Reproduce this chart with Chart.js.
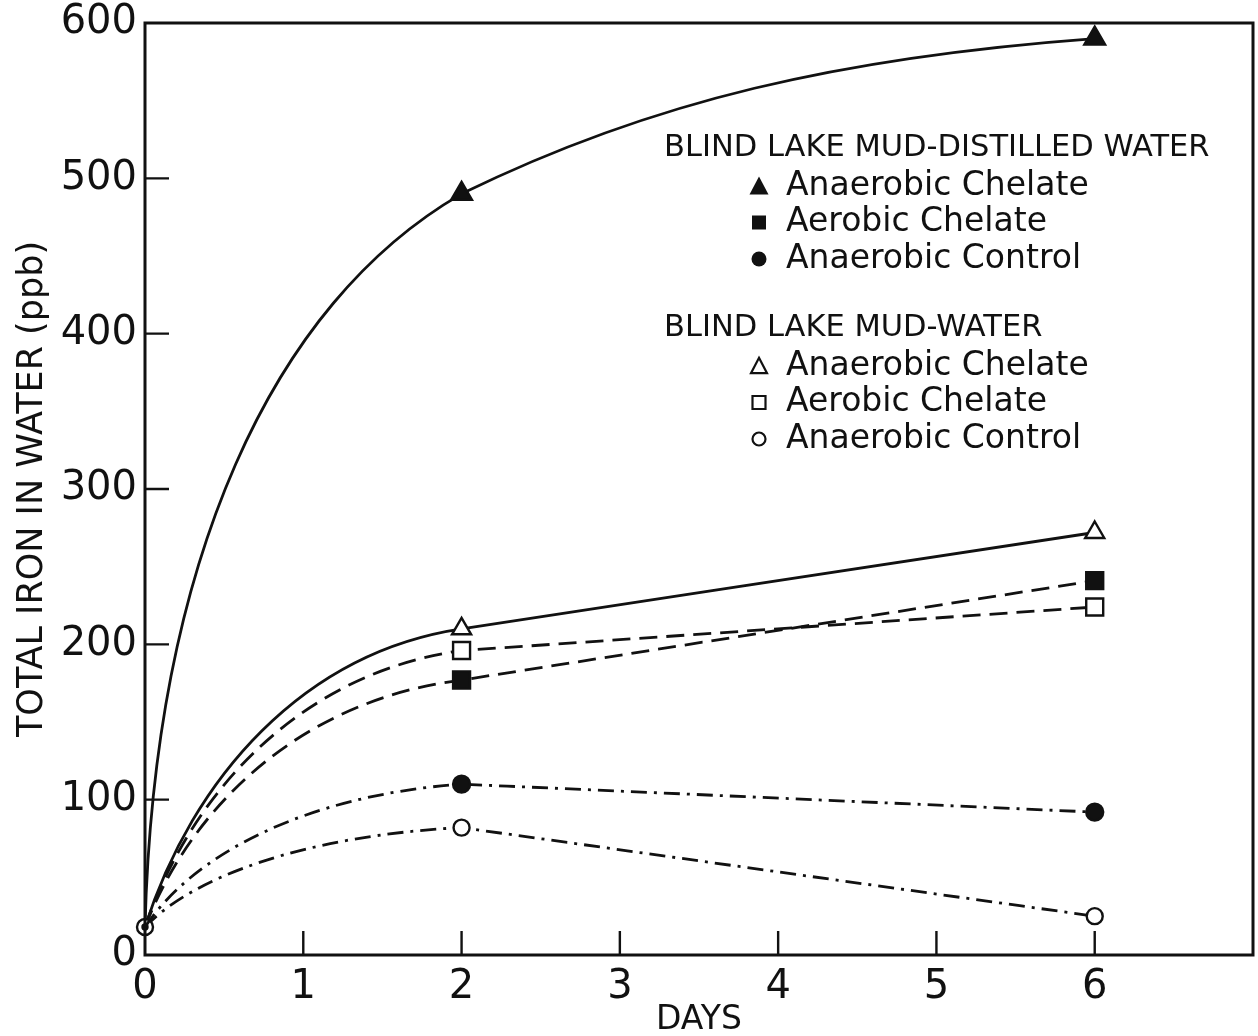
<!DOCTYPE html>
<html>
<head>
<meta charset="utf-8">
<script src="https://cdn.jsdelivr.net/npm/chart.js@4"></script>
<style>
html, body { margin: 0; padding: 0; background: #fff; }
</style>
</head>
<body>
<canvas id="ironChart" width="1258" height="1036"></canvas>
<script>
// days sampled and measured total iron (ppb)
const days = [0, 2, 6];
const distAnaerobicChelate = [18, 490, 590];
const distAerobicChelate = [18, 177, 241];
const distAnaerobicControl = [18, 110, 92];
const mudAnaerobicChelate = [18, 210, 272];
const mudAerobicChelate = [18, 196, 224];
const mudAnaerobicControl = [18, 82, 25];

const xTickValues = [0, 1, 2, 3, 4, 5, 6];
const yTickValues = [0, 100, 200, 300, 400, 500, 600];

const legendGroups = [
    { title: 'BLIND LAKE MUD-DISTILLED WATER', items: ['Anaerobic Chelate', 'Aerobic Chelate', 'Anaerobic Control'] },
    { title: 'BLIND LAKE MUD-WATER', items: ['Anaerobic Chelate', 'Aerobic Chelate', 'Anaerobic Control'] }
];

const INK = '#111';
const FONT = '"DejaVu Sans", "Liberation Sans", sans-serif';

function toPoints(values) {
    return values.map((v, i) => ({ x: days[i], y: v }));
}

// curve shape for each segment: start handle (ax, ay) and end handle (cx, cy), relative to the segment
const steepCurve = [[0.03, 0.5, 0.4, 0.85], [0.3, 0.6, 0.6, 0.88]];
const softCurve = [[0.15, 0.5, 0.5, 0.92], [1 / 3, 1 / 3, 2 / 3, 2 / 3]];

function series(label, values, style, filled, dash, curve, radius, firstRadius) {
    return {
        label: label,
        data: toPoints(values),
        borderColor: INK,
        borderWidth: 2.8,
        borderDash: dash,
        tension: 0.4,
        fill: false,
        clip: 12,
        pointStyle: style,
        pointRadius: [firstRadius, radius, radius],
        pointBackgroundColor: filled ? INK : '#fff',
        pointBorderColor: INK,
        pointBorderWidth: 2.4,
        curve: curve
    };
}

const dashed = [18, 9];
const dashDot = [16, 7, 3, 7];

const datasets = [
    series('Distilled - Anaerobic Chelate', distAnaerobicChelate, 'triangle', true, [], steepCurve, 12, 0),
    series('Distilled - Aerobic Chelate', distAerobicChelate, 'rect', true, dashed, softCurve, 12, 0),
    Object.assign(series('Distilled - Anaerobic Control', distAnaerobicControl, 'circle', true, dashDot, softCurve, 8.5, 2.5), { order: -2 }),
    series('Mud - Anaerobic Chelate', mudAnaerobicChelate, 'triangle', false, [], softCurve, 11, 0),
    series('Mud - Aerobic Chelate', mudAerobicChelate, 'rect', false, dashed, softCurve, 12, 0),
    Object.assign(series('Mud - Anaerobic Control', mudAnaerobicControl, 'circle', false, dashDot, softCurve, 8, 8), { order: -1 })
];

// bend the line segments to the hand drawn shape
const curvePlugin = {
    id: 'curveShape',
    beforeDatasetsDraw(chart) {
        chart.data.datasets.forEach((ds, i) => {
            const meta = chart.getDatasetMeta(i);
            if (!ds.curve || !meta.dataset) return;
            meta.dataset.updateControlPoints(chart.chartArea, 'x');
            const pts = meta.data;
            ds.curve.forEach((c, s) => {
                const p0 = pts[s], p1 = pts[s + 1];
                if (!p0 || !p1) return;
                const dx = p1.x - p0.x, dy = p1.y - p0.y;
                p0.cp2x = p0.x + c[0] * dx;
                p0.cp2y = p0.y + c[1] * dy;
                p1.cp1x = p0.x + c[2] * dx;
                p1.cp1y = p0.y + c[3] * dy;
            });
            meta.dataset._path = undefined;
        });
    }
};

// box round the plot and inward tick marks
const framePlugin = {
    id: 'frame',
    afterDatasetsDraw(chart) {
        const { ctx, chartArea: a, scales } = chart;
        ctx.save();
        ctx.strokeStyle = INK;
        ctx.lineWidth = 3;
        ctx.strokeRect(a.left, a.top, a.right - a.left, a.bottom - a.top);
        ctx.lineWidth = 2.4;
        ctx.beginPath();
        xTickValues.slice(1).forEach(v => {
            const x = scales.x.getPixelForValue(v);
            ctx.moveTo(x, a.bottom);
            ctx.lineTo(x, a.bottom - 24);
        });
        yTickValues.slice(1, -1).forEach(v => {
            const y = scales.y.getPixelForValue(v);
            ctx.moveTo(a.left, y);
            ctx.lineTo(a.left + 24, y);
        });
        ctx.stroke();
        ctx.restore();
    }
};

function drawMarker(ctx, style, filled, x, y, size) {
    ctx.beginPath();
    if (style === 'triangle') {
        const h = size * 0.9;
        ctx.moveTo(x, y - h / 2 - 1);
        ctx.lineTo(x + size / 2, y + h / 2);
        ctx.lineTo(x - size / 2, y + h / 2);
        ctx.closePath();
    } else if (style === 'rect') {
        ctx.rect(x - size / 2, y - size / 2, size, size);
    } else {
        ctx.arc(x, y, size / 2, 0, Math.PI * 2);
    }
    if (filled) {
        ctx.fillStyle = INK;
        ctx.fill();
    } else {
        ctx.fillStyle = '#fff';
        ctx.fill();
        ctx.lineWidth = 2.2;
        ctx.strokeStyle = INK;
        ctx.stroke();
    }
}

const legendPlugin = {
    id: 'figureLegend',
    afterDraw(chart) {
        const ctx = chart.ctx;
        const styles = ['triangle', 'rect', 'circle'];
        const sizes = [[19, 14, 15], [16, 13, 13]];
        const headerY = [148, 328];
        ctx.save();
        ctx.fillStyle = INK;
        ctx.textBaseline = 'middle';
        legendGroups.forEach((g, gi) => {
            ctx.font = '30.5px ' + FONT;
            ctx.fillStyle = INK;
            ctx.textAlign = 'left';
            ctx.fillText(g.title, 664, headerY[gi]);
            g.items.forEach((item, k) => {
                const y = headerY[gi] + 38 + k * 36.5;
                drawMarker(ctx, styles[k], gi === 0, 759, y, sizes[gi][k]);
                ctx.font = '33px ' + FONT;
                ctx.fillStyle = INK;
                ctx.fillText(item, 786, y);
            });
        });
        ctx.restore();
    }
};

const ctx = document.getElementById('ironChart').getContext('2d');
const ironChart = new Chart(ctx, {
    type: 'line',
    data: { datasets: datasets },
    options: {
        responsive: false,
        animation: false,
        layout: { autoPadding: false, padding: { top: 23, right: 5, left: 0, bottom: 0 } },
        plugins: {
            legend: { display: false },
            tooltip: { enabled: false }
        },
        scales: {
            x: {
                type: 'linear',
                min: 0,
                max: 7,
                afterBuildTicks: s => { s.ticks = xTickValues.map(v => ({ value: v })); },
                afterFit: s => { s.height = 81; s.paddingLeft = 0; s.paddingRight = 0; },
                grid: { display: false, drawTicks: false },
                border: { display: false },
                ticks: { color: INK, padding: 9, font: { family: FONT, size: 40 } },
                title: { display: true, text: 'DAYS', color: INK, padding: { top: 0, bottom: -4 }, font: { family: FONT, size: 33 } }
            },
            y: {
                min: 0,
                max: 600,
                afterBuildTicks: s => { s.ticks = yTickValues.map(v => ({ value: v })); },
                afterFit: s => { s.width = 145; s.paddingTop = 0; s.paddingBottom = 0; },
                grid: { display: false, drawTicks: false },
                border: { display: false },
                ticks: { color: INK, padding: 8, font: { family: FONT, size: 40 } },
                title: { display: true, text: 'TOTAL IRON IN WATER (ppb)', color: INK, padding: { top: 12, bottom: 0 }, font: { family: FONT, size: 35 } }
            }
        }
    },
    plugins: [curvePlugin, framePlugin, legendPlugin]
});
</script>
</body>
</html>
